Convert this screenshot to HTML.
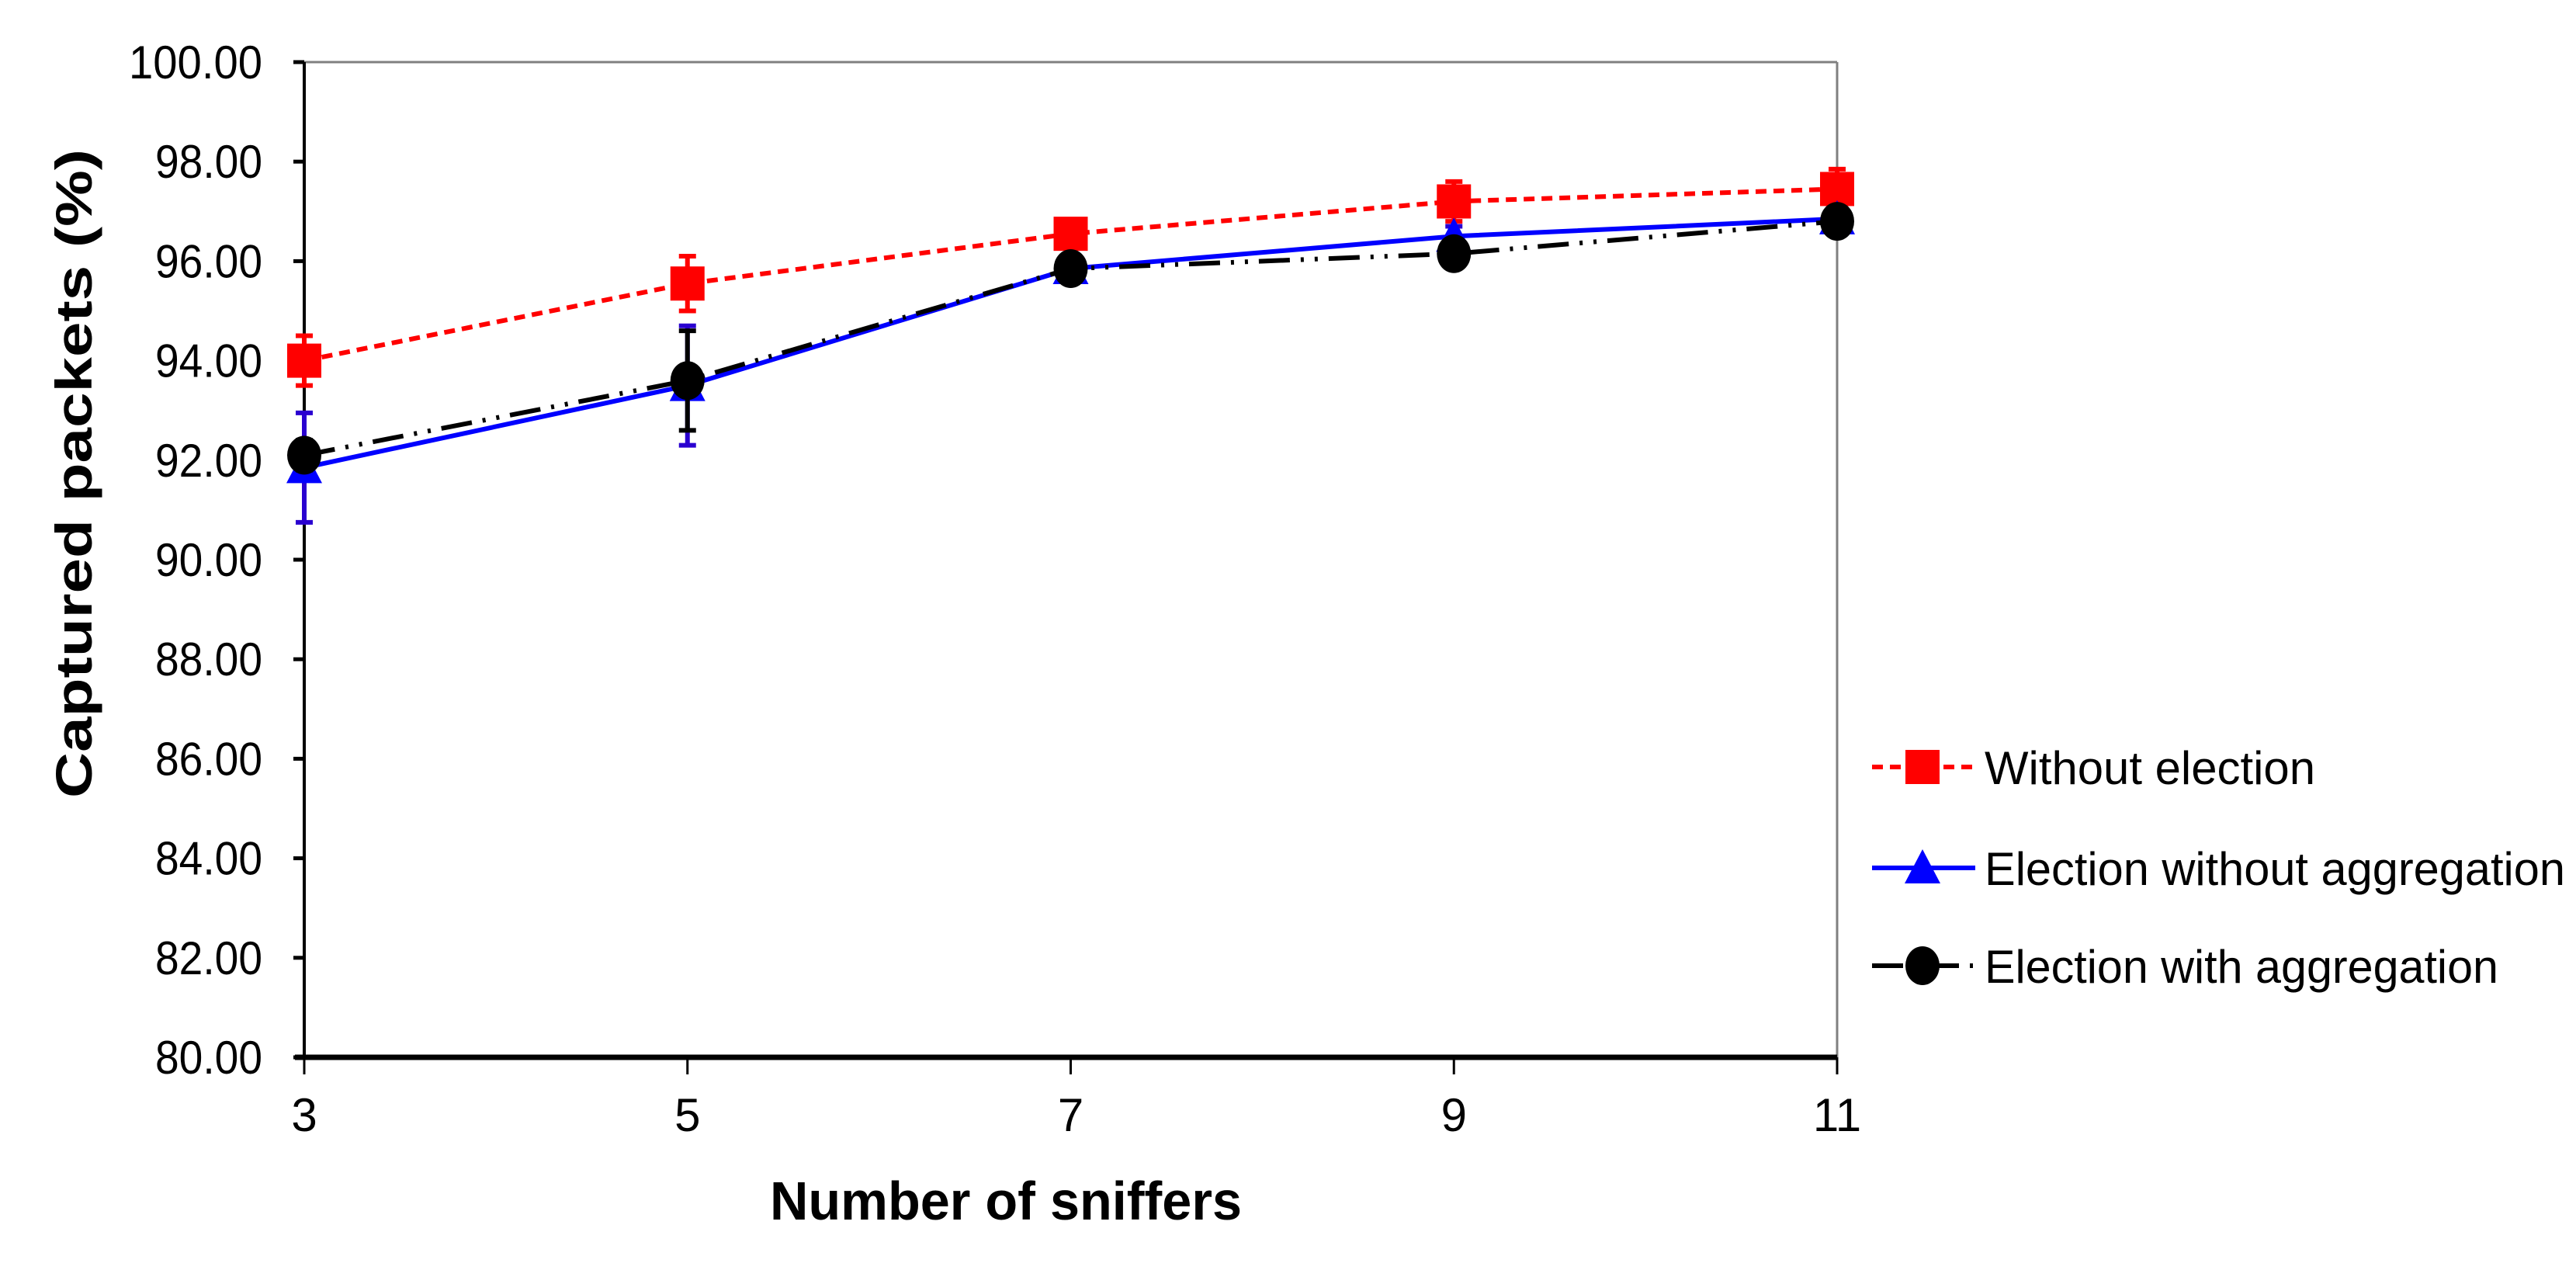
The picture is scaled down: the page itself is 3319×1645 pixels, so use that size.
<!DOCTYPE html>
<html><head><meta charset="utf-8"><style>
html,body{margin:0;padding:0;background:#fff;}
svg text{font-family:"Liberation Sans",sans-serif;}
</style></head><body>
<svg id="chart" width="3319" height="1640" viewBox="0 0 3319 1640" xmlns="http://www.w3.org/2000/svg">
<rect width="3319" height="1640" fill="#fff"/>
<g id="plot"></g>
<text x="0" y="0" transform="translate(118,610) rotate(-90)" text-anchor="middle" font-size="66" font-weight="bold" textLength="836" lengthAdjust="spacingAndGlyphs">Captured packets (%)</text>
<text x="1296" y="1571" text-anchor="middle" font-size="70" font-weight="bold" textLength="608" lengthAdjust="spacingAndGlyphs">Number of sniffers</text>
<g id="legend"></g>
</svg>
<script>
const categories=[3,5,7,9,11];
const yTicks=["80.00","82.00","84.00","86.00","88.00","90.00","92.00","94.00","96.00","98.00","100.00"];
const seriesNames=["Without election","Election without aggregation","Election with aggregation"];
const withoutElection=[94.0,95.55,96.55,97.2,97.45];
const withoutElectionErr=[0.5,0.55,0.25,0.4,0.4];
const electionNoAgg=[91.85,93.5,95.85,96.5,96.85];
const electionNoAggErr=[1.1,1.2,0.15,0.2,0.2];
const electionAgg=[92.1,93.6,95.85,96.15,96.8];
const electionAggErr=[0.3,1.0,0.15,0.2,0.2];

const X0=392,X1=2367,Y0=1362,Y1=80;
const xs=v=>X0+(v-3)/(11-3)*(X1-X0);
const ys=v=>Y0-(v-80)/(100-80)*(Y0-Y1);
const NS="http://www.w3.org/2000/svg";
const plot=document.getElementById('plot');
function mk(tag,attrs,parent){const e=document.createElementNS(NS,tag);for(const k in attrs)e.setAttribute(k,attrs[k]);(parent||plot).appendChild(e);return e;}

let e=mk('line',{x1:X0,y1:Y1,x2:X1,y2:Y1,stroke:'#808080','stroke-width':3});


e=mk('line',{x1:X1,y1:Y1,x2:X1,y2:Y0,stroke:'#808080','stroke-width':3});


e=mk('line',{x1:X0,y1:Y1,x2:X0,y2:Y0,stroke:'#000','stroke-width':4});


e=mk('line',{x1:X0-12,y1:Y0,x2:X1,y2:Y0,stroke:'#000','stroke-width':7});



yTicks.forEach(t=>{const y=ys(parseFloat(t));
 const l=mk('line',{x1:X0-14,y1:y,x2:X0,y2:y,stroke:'#000','stroke-width':5});
 
 
 const tx=mk('text',{x:338,y:y+21,'text-anchor':'end','font-size':60,textLength:t.length>5?172:138,lengthAdjust:'spacingAndGlyphs'});
 tx.textContent=t;
 
 
});
categories.forEach(c=>{const x=xs(c);
 const l=mk('line',{x1:x,y1:Y0,x2:x,y2:Y0+22,stroke:'#000','stroke-width':3});
 
 
 const tx=mk('text',{x:x,y:1457,'text-anchor':'middle','font-size':60});
 tx.textContent=c;
 
 
});

function marker(type,x,y,color,g){
 let m;
 if(type==='square') m=mk('rect',{x:x-22,y:y-22,width:44,height:44,fill:color},g);
 else if(type==='tri') m=mk('polygon',{points:`${x},${y-24} ${x-23},${y+20} ${x+23},${y+20}`,fill:color},g);
 else m=mk('ellipse',{cx:x,cy:y,rx:22,ry:25,fill:color},g);
 return m;
}
const series=[
 {name:seriesNames[0],vals:withoutElection,err:withoutElectionErr,color:'#ff0000',dash:'14 9',type:'square',key:'without-election'},
 {name:seriesNames[1],vals:electionNoAgg,err:electionNoAggErr,color:'#0000ff',dash:'',type:'tri',key:'election-without-aggregation'},
 {name:seriesNames[2],vals:electionAgg,err:electionAggErr,color:'#000000',dash:'40 14 4 14 4 14',type:'circle',key:'election-with-aggregation'}
];
series.forEach(s=>{
 const g=mk('g',{});
 
 
 s.vals.forEach((v,i)=>{const x=xs(categories[i]);
  const ecol=s.key==='election-without-aggregation'?'#2a00d0':s.color;
  const el=mk('path',{d:`M${x},${ys(v+s.err[i])}V${ys(v-s.err[i])}M${x-11},${ys(v+s.err[i])}h22M${x-11},${ys(v-s.err[i])}h22`,stroke:ecol,'stroke-width':6,fill:'none'},g);
  
  
 });
 const pts=s.vals.map((v,i)=>xs(categories[i])+','+ys(v)).join(' ');
 const pl=mk('polyline',{points:pts,fill:'none',stroke:s.color,'stroke-width':6,'stroke-dasharray':s.dash},g);
 
 
 s.vals.forEach((v,i)=>{const m=marker(s.type,xs(categories[i]),ys(v),s.color,g);
  
  
 });
});
const leg=document.getElementById('legend');
const rowsY=[988,1118,1244];
series.forEach((s,i)=>{const y=rowsY[i];
 const g=mk('g',{},leg);
 
 
 mk('line',{x1:2412,y1:y,x2:2545,y2:y,stroke:s.color,'stroke-width':6,'stroke-dasharray':s.dash?(i===0?'14 9':'40 14 4 14'):''},g);
 marker(s.type,2477,y,s.color,g);
 const t=mk('text',{x:2557,y:y+22,'font-size':60,textLength:[426,748,662][i],lengthAdjust:'spacingAndGlyphs'},g);
 t.textContent=s.name;
});
</script>
</body></html>
